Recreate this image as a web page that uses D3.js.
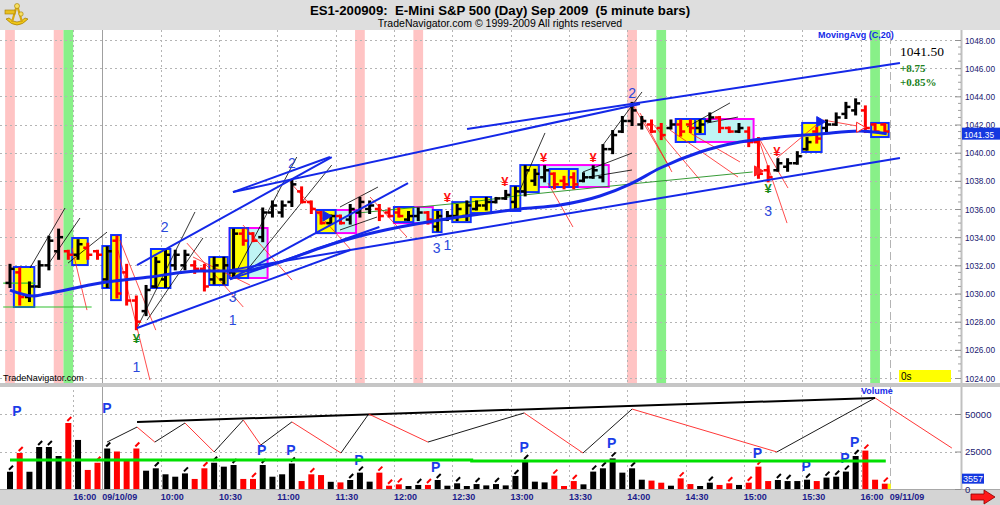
<!DOCTYPE html>
<html><head><meta charset="utf-8">
<script src="https://cdn.jsdelivr.net/npm/d3@7"></script>
<style>body{margin:0;background:#fff}svg{display:block;font-family:Arial,"Liberation Sans",sans-serif}</style>
</head><body><svg id="c" width="1000" height="505"></svg>
<script>
// ---------- DATA ----------
const opens=[1030.75,1031.5,1029.75,1030.5,1032.0,1033.0,1033.0,1032.75,1033.25,1033.0,
1031.0,1033.75,1031.5,1029.5,1028.75,1030.5,1031.0,1032.0,1032.0,1032.0,
1031.75,1031.0,1031.0,1031.5,1034.25,1034.25,1034.0,1035.75,1035.75,1036.5,
1037.25,1036.5,1035.75,1035.0,1035.5,1035.25,1035.75,1036.0,1036.0,1035.75,
1035.75,1035.25,1035.5,1035.75,1034.75,1035.25,1035.5,1035.5,1036.0,1036.25,
1036.5,1036.75,1036.5,1037.25,1038.0,1038.25,1038.5,1038.0,1038.25,1038.0,
1038.25,1038.25,1040.25,1041.5,1042.25,1042.0,1042.0,1041.75,1041.75,1042.0,
1042.0,1041.75,1042.25,1042.5,1041.75,1041.5,1041.5,1040.75,1038.75,1038.75,
1039.0,1039.25,1040.25,1041.5,1041.75,1042.0,1042.75,1043.0,1043.0,1042.0,1042.0];
const highs=[1032.0,1031.75,1030.75,1032.25,1034.0,1034.5,1033.0,1033.75,1033.5,1033.0,
1033.25,1034.0,1032.0,1029.75,1030.5,1032.5,1033.0,1033.0,1033.0,1032.25,
1032.0,1032.5,1032.5,1034.5,1034.5,1034.25,1036.0,1036.5,1036.5,1038.0,
1037.5,1036.5,1035.75,1035.5,1035.5,1036.25,1036.75,1036.5,1036.25,1036.0,
1036.0,1035.75,1036.0,1035.75,1035.75,1035.75,1036.25,1036.5,1036.5,1036.75,
1036.75,1037.25,1037.5,1039.0,1038.75,1039.0,1038.5,1038.25,1038.5,1038.5,
1039.0,1040.5,1041.5,1042.5,1043.5,1042.5,1042.25,1042.0,1042.25,1042.25,
1042.25,1042.25,1042.75,1042.5,1041.75,1042.0,1041.75,1041.0,1039.0,1039.5,
1039.5,1040.0,1041.0,1041.75,1042.25,1042.75,1043.5,1043.75,1043.25,1042.0,1042.0];
const lows=[1030.5,1029.25,1029.5,1030.5,1031.75,1032.5,1032.5,1032.5,1032.5,1032.5,
1030.5,1029.75,1029.25,1027.5,1028.5,1030.5,1030.5,1031.75,1031.75,1031.5,
1030.25,1030.75,1030.75,1031.25,1033.5,1033.75,1033.75,1035.5,1035.5,1036.25,
1036.5,1035.75,1035.0,1035.0,1035.0,1035.0,1035.5,1035.75,1035.25,1035.5,
1035.5,1035.25,1035.25,1035.0,1034.5,1035.25,1035.25,1035.25,1036.0,1036.0,
1036.5,1036.75,1036.0,1037.0,1037.75,1038.0,1037.5,1037.5,1037.5,1038.0,
1038.25,1038.0,1040.0,1041.5,1042.0,1041.75,1041.5,1041.0,1041.75,1041.25,
1041.5,1041.5,1042.25,1041.5,1041.5,1041.5,1040.5,1038.25,1038.0,1038.75,
1038.75,1039.25,1040.25,1040.75,1041.5,1042.0,1042.5,1042.75,1041.5,1041.5,1041.5];
const closes=[1031.75,1029.75,1030.5,1032.0,1033.75,1034.0,1032.75,1033.5,1032.75,1032.75,
1033.0,1030.0,1029.5,1028.0,1030.25,1032.25,1032.75,1032.75,1032.75,1031.75,
1030.5,1032.0,1032.0,1034.25,1033.75,1033.75,1035.75,1036.25,1036.25,1037.75,
1036.5,1036.0,1035.0,1035.5,1035.0,1036.0,1036.5,1036.25,1035.5,1035.5,
1035.5,1035.5,1035.75,1035.25,1035.5,1035.5,1036.0,1036.25,1036.25,1036.5,
1036.75,1037.0,1037.25,1038.75,1038.5,1038.75,1037.75,1037.75,1037.75,1038.25,
1038.75,1040.25,1041.25,1042.25,1043.0,1042.25,1041.5,1041.25,1042.0,1041.5,
1041.75,1042.0,1042.5,1041.75,1041.5,1041.75,1040.75,1038.5,1038.25,1039.25,
1039.25,1039.75,1040.75,1041.0,1042.0,1042.5,1043.25,1043.5,1041.75,1041.5,1041.5];
const volumes=[11500,24000,11500,28000,28000,22000,44000,32700,12700,17500,
27000,25000,19300,27000,12200,13800,9800,8200,10400,6700,
13800,17500,14900,16000,6700,6700,16000,8200,9800,17000,
5300,9800,9300,4800,4400,6000,10900,4900,10900,2200,
3100,2000,2700,2700,6000,2200,3800,2000,3300,2400,
3300,2400,8700,18700,4900,4400,8900,2000,5300,3100,
11600,13800,20400,10900,13800,6200,5600,4200,2200,7100,
3300,2000,4200,2700,3800,2700,4200,14900,5300,6000,
5300,5300,6200,5300,7600,8200,11600,22000,25600,6200,3557];
const volMarks=[0,1,3,4,6,9,10,13,15,18,20,21,23,25,26,29,31,35,36,38,39,40,42,43,44,46,48,50,52,53,56,58,60,61,62,64,69,72,74,76,77,79,80,82,84,85,86,87,88,90];
const pinkBars=[0,5,36,42,64];
const greenBars=[6,67,89];
const timeIdx=[7,10,16,22,28,34,40,46,52,58,64,70,76,82,88,91];
const timeLabels=["16:00","09/10/09","10:00","10:30","11:00","11:30","12:00","12:30","13:00","13:30","14:00","14:30","15:00","15:30","16:00","09/11/09"];
const priceTicks=[1024,1026,1028,1030,1032,1034,1036,1038,1040,1042,1044,1046,1048];
const volTicks=[0,25000,50000];
// moving average (C,20)
const maIdx=[0,2.4,3.6,9.3,14.4,19.5,23.7,27.8,31.9,36.0,40.1,44.2,48.4,52.5,56.6,60.7,63.8,66.9,71.0,75.1,79.2,83.3,87.4,90.2];
const maVal=[1030.24,1029.82,1029.96,1030.74,1031.17,1031.59,1031.59,1032.23,1033.23,1034.08,1034.72,1035.22,1035.64,1036.0,1036.28,1036.92,1037.77,1038.91,1040.05,1040.76,1041.11,1041.32,1041.54,1041.35];
// yellow boxes [startIdx, endIdx, hi, lo]
const yellowBoxes=[[0.4,2.5,1031.88,1029.04],[6.4,8.0,1033.94,1032.02],[9.5,10.3,1033.37,1030.39],[10.4,11.4,1034.15,1029.53],
[14.5,16.5,1033.16,1030.39],[20.5,22.4,1032.59,1030.6],[22.6,24.5,1034.65,1031.1],[31.5,33.5,1035.93,1034.29],
[39.5,41.5,1036.14,1035.07],[43.5,44.4,1035.93,1034.36],[45.5,47.4,1036.49,1035.07],[47.4,49.5,1036.85,1035.71],
[51.5,52.5,1037.63,1035.86],[52.5,54.4,1039.12,1037.2],[55.5,57.5,1038.84,1037.56],[57.5,58.4,1038.84,1037.56],
[68.5,70.5,1042.39,1040.76],[70.5,71.5,1042.39,1041.32],[81.5,83.5,1042.11,1040.05],[88.6,90.4,1042.11,1041.11]];
// magenta / cyan boxes
const cyanBoxes=[[22.6,26.5,1034.65,1031.1],[31.5,35.6,1035.93,1034.29],[39.5,43.5,1036.14,1035.0],[54.4,61.6,1039.12,1037.56],[68.5,76.5,1042.39,1040.76]];
// lines [i0,p0,i1,p1]
const blueLines=[[22.94,1037.2,64.81,1043.45],[47.02,1041.68,91.56,1046.37],[13.07,1032.02,33.1,1039.69],
[22.63,1031.0,40.95,1037.84],[22.63,1031.66,91.56,1039.62],[13.07,1027.55,35.0,1033.09],[22.63,1031.0,38.0,1034.72],[22.94,1037.2,32.92,1039.69]];
const blackLines=[[2.06,1031.81,5.66,1036.07],[3.81,1031.95,7.2,1035.36],[5.97,1032.16,9.98,1034.36],[13.07,1027.55,19.03,1035.79],
[14.1,1028.11,19.85,1033.94],[22.94,1031.1,29.5,1039.69],[24.38,1031.66,33.1,1039.12],[33.95,1036.14,37.86,1037.56],
[33.95,1034.51,37.76,1035.43],[52.47,1037.35,55.04,1041.4],[58.95,1038.63,63.99,1039.97],[58.95,1038.2,63.99,1038.77],
[61.0,1040.54,65.02,1044.31],[69.65,1041.82,74.07,1043.53],[71.71,1042.11,74.9,1042.53]];
const redLines=[[11.3,1033.8,15.0,1027.4],[11.1,1033.09,14.4,1023.85],[6.38,1033.23,7.92,1028.82],[18.2,1033.58,24.0,1029.04],
[18.83,1032.59,24.69,1030.6],[23.97,1034.86,29.01,1030.95],[28.8,1037.91,35.0,1033.16],[37.04,1036.85,40.84,1034.01],
[55.35,1037.84,57.92,1034.72],[64.09,1043.38,67.9,1038.91],[64.81,1042.82,68.1,1038.63],[66.05,1042.11,70.99,1038.06],
[67.9,1041.61,74.9,1038.27],[69.96,1041.4,75.1,1039.34],[76.95,1041.11,79.94,1035.0],[77.16,1040.9,80.04,1037.49],
[78.9,1039.62,83.3,1042.18],[83.64,1042.32,87.76,1041.82]];
const greenIdx=[35.7,47.3,52.8,64.8,76.4];
const greenVal=[1035.71,1036.49,1036.99,1037.84,1038.63];
const greenFlat=[[-0.7,1029.04,8.4,1029.04],[-0.7,1030.74,2.6,1030.74]];
// wave labels
const waveIdx=[13.0,15.9,22.9,22.9,29.0,43.9,45.0,64.0,78.0];
const wavePrice=[1024.78,1034.72,1029.75,1028.11,1039.26,1033.23,1033.44,1044.24,1035.86];
const waveText=["1","2","3","1","2","3","1","2","3"];
const redYenIdx=[45.0,50.9,54.9,60.0,78.9];
const redYenPrice=[1036.85,1037.99,1039.69,1039.69,1040.12];
const greenYenIdx=[13.0,78.0];
const greenYenPrice=[1026.84,1037.49];
// volume panel overlays
const zzIdx=[9.98,13.07,14.9,18.0,21.0,24.0,25.8,29.0,34.05,36.9,43.0,52.9,58.95,64.0,78.9,89.0,96.9];
const zzVol=[31300,41300,31300,44000,24700,46000,29300,44700,24000,50000,31300,50700,24000,53300,24700,60700,27300];
const topLineIdx=[13.07,89.0];
const topLineVol=[44700,60700];
const volAvgIdx=[0,47.5,47.5,90.1];
const volAvgVal=[19300,19300,18700,18700];
const pIdx=[0.72,9.98,25.9,28.9,35.9,43.8,52.9,61.9,76.9,81.9,85.9,86.9];
const pVol=[52700,54700,26700,26700,20000,15300,28700,31300,24700,16000,21300,32000];

// ---------- CHART ----------
const svg=d3.select('#c');
const W=1000,H=505,step=9.72,R=961;
const xs=d3.scaleLinear().domain([0,90]).range([10,10+90*step]);
const yP=d3.scaleLinear().domain([1024,1048]).range([378,40]);
const yV=d3.scaleLinear().domain([0,50000]).range([489,414]);
const bars=d3.range(91).map(i=>({i,o:opens[i],h:highs[i],l:lows[i],c:closes[i],v:volumes[i],col:closes[i]>=opens[i]?'#000':'#ff0000'}));

svg.append('rect').attr('width',W).attr('height',H).attr('fill','#fff');
svg.append('rect').attr('width',W).attr('height',30).attr('fill','#dedede');
svg.append('rect').attr('y',383).attr('width',W).attr('height',4).attr('fill','#c6c6c6');
svg.append('rect').attr('y',489).attr('width',W).attr('height',16).attr('fill','#d4d4d4');
svg.append('line').attr('x1',0).attr('x2',W).attr('y1',489.5).attr('y2',489.5).attr('stroke','#a8a8a8');

const defs=svg.append('defs');
defs.append('clipPath').attr('id','cp').append('rect').attr('x',0).attr('y',30).attr('width',R).attr('height',353);
defs.append('clipPath').attr('id','cv').append('rect').attr('x',0).attr('y',387).attr('width',R).attr('height',102);

const gp=svg.append('g').attr('clip-path','url(#cp)');
const gv=svg.append('g').attr('clip-path','url(#cv)');

// bands
gp.selectAll('rect.pk').data(pinkBars).join('rect').attr('x',d=>xs(d)-step/2).attr('y',30).attr('width',step).attr('height',353).attr('fill','#ffc4c4');
gp.selectAll('rect.gn').data(greenBars).join('rect').attr('x',d=>xs(d)-step/2).attr('y',30).attr('width',step).attr('height',353).attr('fill','#88f088');

// grids
const gridCol='#b4b4b4';
gp.selectAll('line.hg').data(priceTicks).join('line').attr('x1',0).attr('x2',R).attr('y1',d=>Math.round(yP(d))+0.5).attr('y2',d=>Math.round(yP(d))+0.5).attr('stroke',gridCol).attr('stroke-dasharray','2,3');
gv.selectAll('line.hg').data(volTicks.slice(1)).join('line').attr('x1',0).attr('x2',R).attr('y1',d=>Math.round(yV(d))+0.5).attr('y2',d=>Math.round(yV(d))+0.5).attr('stroke',gridCol).attr('stroke-dasharray','2,3');
[gp,gv].forEach(g=>{
  g.selectAll('line.vg').data(timeIdx).join('line')
   .attr('x1',d=>Math.round(xs(d-0.5))+0.5).attr('x2',d=>Math.round(xs(d-0.5))+0.5).attr('y1',0).attr('y2',H)
   .attr('stroke',d=>d===10?'#a0a0a0':gridCol)
   .attr('stroke-dasharray',d=>d===10?null:(d===91?'8,4':'2,3'));
});

// cyan / magenta boxes then yellow boxes
gp.selectAll('rect.cy').data(cyanBoxes).join('rect')
 .attr('x',d=>xs(d[0])).attr('y',d=>yP(d[2])).attr('width',d=>xs(d[1])-xs(d[0])).attr('height',d=>yP(d[3])-yP(d[2]))
 .attr('fill','#bff4f4').attr('stroke','#ff00ff').attr('stroke-width',2);
gp.selectAll('rect.yb').data(yellowBoxes).join('rect')
 .attr('x',d=>xs(d[0])).attr('y',d=>yP(d[2])).attr('width',d=>xs(d[1])-xs(d[0])).attr('height',d=>yP(d[3])-yP(d[2]))
 .attr('fill','#ffff00').attr('stroke','#1030ff').attr('stroke-width',2);

// thin lines (drawn under the bars)
const seg=(g,data,col,w)=>g.append('g').selectAll('line').data(data).join('line')
 .attr('x1',d=>xs(d[0])).attr('y1',d=>yP(d[1])).attr('x2',d=>xs(d[2])).attr('y2',d=>yP(d[3])).attr('stroke',col).attr('stroke-width',w);
seg(gp,blackLines,'#000',0.8);
seg(gp,redLines,'#ff2020',0.8);
seg(gp,greenFlat,'#30c030',1.2);
gp.append('path').datum(d3.range(greenIdx.length)).attr('d',d3.line().x(k=>xs(greenIdx[k])).y(k=>yP(greenVal[k]))).attr('fill','none').attr('stroke','#209020').attr('stroke-width',0.9);

// OHLC bars
const gb=gp.append('g');
gb.selectAll('line.hl').data(bars).join('line').attr('x1',d=>xs(d.i)).attr('x2',d=>xs(d.i)).attr('y1',d=>yP(d.h)-1.5).attr('y2',d=>yP(d.l)+1.5).attr('stroke',d=>d.col).attr('stroke-width',3);
gb.selectAll('line.op').data(bars).join('line').attr('x1',d=>xs(d.i)-4.5).attr('x2',d=>xs(d.i)).attr('y1',d=>yP(d.o)).attr('y2',d=>yP(d.o)).attr('stroke',d=>d.col).attr('stroke-width',2.5);
gb.selectAll('line.cl').data(bars).join('line').attr('x1',d=>xs(d.i)).attr('x2',d=>xs(d.i)+4.5).attr('y1',d=>yP(d.c)).attr('y2',d=>yP(d.c)).attr('stroke',d=>d.col).attr('stroke-width',2.5);

seg(gp,blueLines,'#1428e8',2);
gp.append('path').datum(d3.range(maIdx.length)).attr('d',d3.line().curve(d3.curveMonotoneX).x(k=>xs(maIdx[k])).y(k=>yP(maVal[k]))).attr('fill','none').attr('stroke','#1428e8').attr('stroke-width',3);

// markers
const tri=d3.symbol().type(d3.symbolTriangle).size(45);
[[83.3,1042.2,'#1428e8',true],[32.5,1035.5,'#1428e8',true],[76.9,1038.7,'#ff2020',true],[87.4,1041.8,'#ff2020',false]].forEach(m=>{
  gp.append('path').attr('d',tri()).attr('transform',`translate(${xs(m[0])},${yP(m[1])}) rotate(90)`)
   .attr('fill',m[3]?m[2]:'#fff').attr('stroke',m[2]).attr('stroke-width',1);
});

// labels
gp.selectAll('text.wv').data(waveText).join('text').attr('x',(d,k)=>xs(waveIdx[k])).attr('y',(d,k)=>yP(wavePrice[k])+5)
 .attr('text-anchor','middle').attr('font-size',14).attr('fill','#2a48dc').text(d=>d);
gp.selectAll('text.ry').data(redYenIdx).join('text').attr('x',d=>xs(d)).attr('y',(d,k)=>yP(redYenPrice[k])+5)
 .attr('text-anchor','middle').attr('font-size',13).attr('font-weight','bold').attr('fill','#ff1010').text('¥');
gp.selectAll('text.gy').data(greenYenIdx).join('text').attr('x',d=>xs(d)).attr('y',(d,k)=>yP(greenYenPrice[k])+5)
 .attr('text-anchor','middle').attr('font-size',13).attr('font-weight','bold').attr('fill','#1a8a1a').text('¥');

gp.append('text').attr('x',818).attr('y',38).attr('font-size',9).attr('font-weight','bold').attr('fill','#1428e8').text('MovingAvg (C,20)');
gp.append('text').attr('x',900).attr('y',56).attr('font-family','"Liberation Serif","DejaVu Serif",serif').attr('font-size',13.5).attr('fill','#000').text(closes[90].toFixed(2));
gp.append('text').attr('x',900).attr('y',72).attr('font-family','"Liberation Serif",serif').attr('font-size',11).attr('font-weight','bold').attr('fill','#208020').text('+8.75');
gp.append('text').attr('x',900).attr('y',86).attr('font-family','"Liberation Serif",serif').attr('font-size',11).attr('font-weight','bold').attr('fill','#208020').text('+0.85%');
gp.append('rect').attr('x',899).attr('y',370).attr('width',52).attr('height',12).attr('fill','#ffff00');
gp.append('text').attr('x',901).attr('y',380).attr('font-size',10).attr('fill','#000').text('0s');
gp.append('text').attr('x',3).attr('y',381).attr('font-size',9).attr('fill','#000').text('TradeNavigator.com');

// price axis
svg.append('line').attr('x1',R+0.5).attr('x2',R+0.5).attr('y1',30).attr('y2',383).attr('stroke','#c0c0c0').attr('stroke-width',2);
const pa=svg.append('g').attr('transform',`translate(${R},0)`)
 .call(d3.axisRight(yP).tickValues(priceTicks).tickFormat(d=>d.toFixed(2)).tickSizeInner(-6).tickSizeOuter(0).tickPadding(4));
pa.select('.domain').remove();
pa.selectAll('line').attr('stroke','#909090');
pa.selectAll('text').attr('font-size',9.5).attr('fill','#202070').attr('font-family','Arial,"Liberation Sans",sans-serif').attr('textLength',30).attr('lengthAdjust','spacingAndGlyphs');
svg.append('g').selectAll('line').data(d3.range(1024,1048.01,0.5).filter(v=>v%2!==0)).join('line')
 .attr('x1',R-3).attr('x2',R).attr('y1',d=>yP(d)).attr('y2',d=>yP(d)).attr('stroke','#a0a0a0');
svg.append('rect').attr('x',962).attr('y',yP(maVal[maVal.length-1])-6).attr('width',38).attr('height',12).attr('fill','#1438e0');
svg.append('text').attr('x',964).attr('y',yP(maVal[maVal.length-1])+4).attr('font-size',9.5).attr('fill','#fff').attr('textLength',30).attr('lengthAdjust','spacingAndGlyphs').text(maVal[maVal.length-1].toFixed(2));

// volume panel
gv.selectAll('rect.vb').data(bars).join('rect').attr('x',d=>xs(d.i)-3).attr('width',6).attr('y',d=>yV(d.v)).attr('height',d=>yV(0)-yV(d.v)).attr('fill',d=>d.col);
gv.append('rect').attr('x',xs(90)+3).attr('width',3).attr('y',yV(volumes[90])).attr('height',yV(0)-yV(volumes[90])).attr('fill','#ffff00');
gv.selectAll('line.vm').data(volMarks).join('line').attr('x1',d=>xs(d)-1).attr('x2',d=>xs(d)+3).attr('y1',d=>yV(volumes[d])-2).attr('y2',d=>yV(volumes[d])-6)
 .attr('stroke',d=>bars[d].col).attr('stroke-width',2);
gv.append('path').datum(d3.range(topLineIdx.length)).attr('d',d3.line().x(k=>xs(topLineIdx[k])).y(k=>yV(topLineVol[k]))).attr('stroke','#000').attr('stroke-width',2).attr('fill','none');
gv.selectAll('line.zz').data(d3.range(zzIdx.length-1)).join('line')
 .attr('x1',k=>xs(zzIdx[k])).attr('y1',k=>yV(zzVol[k])).attr('x2',k=>xs(zzIdx[k+1])).attr('y2',k=>yV(zzVol[k+1]))
 .attr('stroke',k=>zzVol[k+1]>zzVol[k]?'#000':'#ff2020').attr('stroke-width',0.9);
gv.selectAll('text.p').data(pIdx).join('text').attr('x',d=>xs(d)).attr('y',(d,k)=>yV(pVol[k])+6)
 .attr('text-anchor','middle').attr('font-size',14).attr('font-weight','bold').attr('fill','#1a3ce8').text('P');
gv.append('path').datum(d3.range(volAvgIdx.length)).attr('d',d3.line().x(k=>xs(volAvgIdx[k])).y(k=>yV(volAvgVal[k]))).attr('stroke','#00e000').attr('stroke-width',3).attr('fill','none');
gv.append('text').attr('x',861).attr('y',394).attr('font-size',9).attr('font-weight','bold').attr('fill','#1428e8').text('Volume');

svg.append('line').attr('x1',R+0.5).attr('x2',R+0.5).attr('y1',387).attr('y2',489).attr('stroke','#c0c0c0').attr('stroke-width',2);
const va=svg.append('g').attr('transform',`translate(${R},0)`)
 .call(d3.axisRight(yV).tickValues(volTicks).tickFormat(d3.format('d')).tickSizeInner(-6).tickSizeOuter(0).tickPadding(4));
va.select('.domain').remove();
va.selectAll('line').attr('stroke','#909090');
va.selectAll('text').attr('font-size',9.5).attr('fill','#202070');
svg.append('rect').attr('x',962).attr('y',yV(volumes[90])-10).attr('width',22).attr('height',10).attr('fill','#1438e0');
svg.append('text').attr('x',963).attr('y',yV(volumes[90])-2).attr('font-size',9).attr('fill','#fff').text(volumes[90]);

// x axis labels
svg.selectAll('text.xl').data(timeIdx).join('text').attr('x',d=>xs(d-0.5)).attr('y',500)
 .attr('font-size',9).attr('font-weight','bold').attr('fill','#1c1c8c').text((d,k)=>timeLabels[k]);

// arrow bottom-right
svg.append('path').attr('d','M971,494 L984,494 L984,490 L995,497 L984,504 L984,500 L971,500 Z').attr('fill','#ff1a1a').attr('stroke','#8a0000').attr('stroke-width',0.8);

// title
svg.append('text').attr('x',500).attr('y',15).attr('text-anchor','middle').attr('font-size',13.2).attr('font-weight','bold').attr('fill','#000')
 .style('white-space','pre').attr('xml:space','preserve').text('ES1-200909:  E-Mini S&P 500 (Day) Sep 2009  (5 minute bars)');
svg.append('text').attr('x',500).attr('y',27).attr('text-anchor','middle').attr('font-size',10.5).attr('fill','#000').text('TradeNavigator.com © 1999-2009 All rights reserved');
// logo (gold sextant)
const lg=svg.append('g').attr('transform','translate(3,2)');
lg.append('path').attr('d','M3,17 Q14,29 25,17 L22,16 Q14,24 6,16 Z').attr('fill','#f0c818').attr('stroke','#a07800').attr('stroke-width',0.7);
lg.append('path').attr('d','M14,3 L9,20 M14,3 L19,20').attr('stroke','#d8a810').attr('stroke-width',2.2).attr('fill','none');
lg.append('rect').attr('x',2).attr('y',8).attr('width',10).attr('height',4).attr('fill','#e8c020').attr('stroke','#a07800').attr('stroke-width',0.6);
lg.append('circle').attr('cx',14).attr('cy',4).attr('r',2.5).attr('fill','#f8e060').attr('stroke','#a07800').attr('stroke-width',0.6);
lg.append('circle').attr('cx',18).attr('cy',12).attr('r',2.2).attr('fill','#f8e060').attr('stroke','#a07800').attr('stroke-width',0.6);
</script></body></html>
